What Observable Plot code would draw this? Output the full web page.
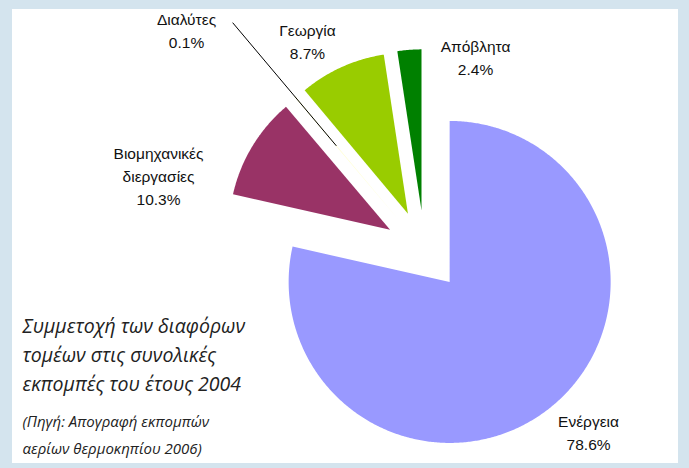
<!DOCTYPE html>
<html>
<head>
<meta charset="utf-8">
<script src="https://cdn.jsdelivr.net/npm/d3@7"></script>
<script src="https://cdn.jsdelivr.net/npm/@observablehq/plot@0.6"></script>
<style>
  html, body { margin: 0; padding: 0; background: #d4e4ee; }
  #panel { position: absolute; left: 12px; top: 9px; width: 666px; height: 454px; background: #ffffff; }
  #panel svg { display: block; }
</style>
</head>
<body>
<div id="panel"></div>
<script>
// ---- data ----
const categories = ["Ενέργεια", "Βιομηχανικές διεργασίες", "Διαλύτες", "Γεωργία", "Απόβλητα"];
const shares = [78.6, 10.3, 0.1, 8.7, 2.4];
const labelNames = ["Ενέργεια", "Βιομηχανικές\nδιεργασίες", "Διαλύτες", "Γεωργία", "Απόβλητα"];
const sliceColors = ["#9999ff", "#993366", "#ffffcc", "#99cc00", "#008000"];
const titleLines = ["Συμμετοχή των διαφόρων", "τομέων στις συνολικές", "εκπομπές του έτους 2004"];
const sourceLines = ["(Πηγή: Απογραφή εκπομπών", "αερίων θερμοκηπίου 2006)"];

// ---- layout (in pie-radius units) ----
const EXPLODE = 0.25;
const labelAnchors = [[1.019, -1.124], [-1.652, 0.472], [-1.478, 1.376], [-0.727, 1.305], [0.317, 1.205]];
const leaderRadii = [0.6, 1.6];

const arcs = d3.pie().sort(null).value(d => d)(shares);
const polyPoints = [];
const sliceInfo = arcs.map((a, i) => {
  const mid = (a.startAngle + a.endAngle) / 2;
  const vx = EXPLODE * Math.sin(mid), vy = EXPLODE * Math.cos(mid);
  const name = categories[i];
  polyPoints.push({name, x: vx, y: vy});
  const n = Math.max(2, Math.ceil((a.endAngle - a.startAngle) / (Math.PI / 360)));
  for (let k = 0; k <= n; k++) {
    const t = a.startAngle + (a.endAngle - a.startAngle) * k / n;
    polyPoints.push({name, x: vx + Math.sin(t), y: vy + Math.cos(t)});
  }
  polyPoints.push({name, x: vx, y: vy});
  return {name, mid, vx, vy};
});

const labels = categories.map((c, i) => ({
  x: labelAnchors[i][0], y: labelAnchors[i][1],
  text: labelNames[i] + "\n" + shares[i].toFixed(1) + "%"
}));

const solv = sliceInfo[2];
const leader = [{
  x1: solv.vx + leaderRadii[0] * Math.sin(solv.mid), y1: solv.vy + leaderRadii[0] * Math.cos(solv.mid),
  x2: solv.vx + leaderRadii[1] * Math.sin(solv.mid), y2: solv.vy + leaderRadii[1] * Math.cos(solv.mid)
}];

const R = 161;
const W = 666, H = 454;
const cx = 412, cy = 241;

const chart = Plot.plot({
  width: W, height: H, margin: 0,
  style: {background: "transparent", fontFamily: "'Liberation Sans', Arial, sans-serif", color: "#111"},
  x: {domain: [-cx / R, (W - cx) / R], axis: null},
  y: {domain: [-(H - cy) / R, cy / R], axis: null},
  color: {domain: categories, range: sliceColors},
  marks: [
    Plot.line(polyPoints, {x: "x", y: "y", z: "name", fill: "name", stroke: "none", curve: "linear-closed"}),
    Plot.link(leader, {x1: "x1", y1: "y1", x2: "x2", y2: "y2", stroke: "#000", strokeWidth: 1}),
    Plot.text(labels, {x: "x", y: "y", text: "text", fontSize: 15.5, lineHeight: 1.47, textAnchor: "middle", lineAnchor: "middle", fill: "#111"}),
    Plot.text([titleLines.join("\n")], {frameAnchor: "top-left", dx: 10, dy: 343, text: d => d, textAnchor: "start", lineAnchor: "middle",
      fontSize: 19.5, lineHeight: 1.5, fontStyle: "italic", fontFamily: "'Open Sans', sans-serif", fill: "#222"}),
    Plot.text([sourceLines.join("\n")], {frameAnchor: "top-left", dx: 10, dy: 422, text: d => d, textAnchor: "start", lineAnchor: "middle",
      fontSize: 15, lineHeight: 1.8, fontStyle: "italic", fontFamily: "'Open Sans', sans-serif", fill: "#222"})
  ]
});
document.getElementById("panel").appendChild(chart);
</script>
</body>
</html>
